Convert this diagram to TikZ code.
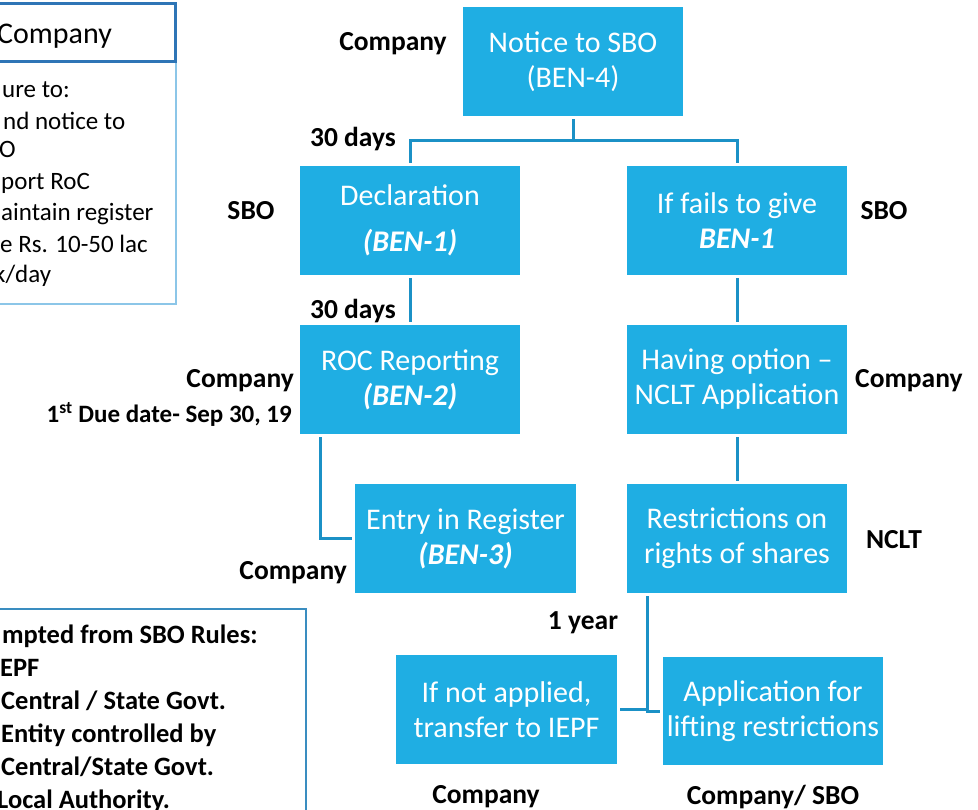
\documentclass[tikz,border=0pt]{standalone}
\usepackage{fontspec}
\setmainfont{Carlito}
\definecolor{boxblue}{HTML}{1FAEE3}
\definecolor{linkblue}{HTML}{1B91C6}
\definecolor{hdrblue}{HTML}{2E75B6}
\definecolor{bodyblue}{HTML}{8CC6E8}
\definecolor{exblue}{HTML}{3A8DC0}
\begin{document}
\begin{tikzpicture}[x=1pt,y=-1pt,
  flowbox/.style={fill=boxblue, text=white, minimum width=220pt, minimum height=109pt,
    inner sep=0pt, align=center, font=\fontsize{30}{35}\selectfont},
  lbl/.style={font=\bfseries\fontsize{27.5}{30}\selectfont, inner sep=0pt},
  conn/.style={draw=linkblue, line width=3pt, shorten <=3pt, shorten >=3pt},
  sidetxt/.style={anchor=base west, inner sep=0pt, font=\fontsize{25}{28}\selectfont},
  extxt/.style={anchor=base west, inner sep=0pt, font=\bfseries\fontsize{26.5}{30}\selectfont}]
\useasboundingbox (0,0) rectangle (978,810);
\clip (0,0) rectangle (978,810);

% left top boxes
\draw[draw=bodyblue, line width=2.5pt, fill=white] (-60,62) rectangle (176,304);
\draw[draw=hdrblue, line width=3pt, fill=white] (-60,4) rectangle (175,62);
\node[anchor=base west, inner sep=0pt, font=\fontsize{30}{34}\selectfont] (hdr) at (-3,44) {Company};
\node[sidetxt] (tl1) at (2,98) {ure to:};
\node[sidetxt] (tl2) at (3,130) {nd notice to};
\node[sidetxt] (tl3) at (-1,158) {O};
\node[sidetxt] (tl4) at (1,190) {port RoC};
\node[sidetxt] (tl5) at (1,221) {aintain register};
\node[sidetxt] (tl6) at (0,253) {e Rs. 10-50 lac};
\node[sidetxt] (tl7) at (-6,283) {k/day};

% left bottom box
\draw[draw=exblue, line width=2pt, fill=white] (-60,609) rectangle (306,860);
\node[extxt] (ex1) at (2,643) {mpted from SBO Rules:};
\node[extxt] (ex2) at (0,676) {EPF};
\node[extxt] (ex3) at (1,709) {Central / State Govt.};
\node[extxt] (ex4) at (1,742) {Entity controlled by};
\node[extxt] (ex5) at (1,775) {Central/State Govt.};
\node[extxt] (ex6) at (-3,808) {Local Authority.};

% flow boxes
\node[flowbox] (notice) at (573,61.5) {Notice to SBO\\(BEN-4)};
\node[flowbox] (decl) at (410,220.5) {Declaration\\[11pt]\textbf{\textit{(BEN-1)}}};
\node[flowbox] (fails) at (737,220.5) {If fails to give\\\textbf{\textit{BEN-1}}};
\node[flowbox] (roc) at (410,379.5) {ROC Reporting\\\textbf{\textit{(BEN-2)}}};
\node[flowbox] (having) at (737,379.5) {Having option --\\NCLT Application};
\node[flowbox, minimum width=221pt] (entry) at (465.5,538.5) {Entry in Register\\\textbf{\textit{(BEN-3)}}};
\node[flowbox] (restr) at (737,538.5) {Restrictions on\\rights of shares};
\node[flowbox, minimum width=221pt] (ifnot) at (506.5,709.5) {If not applied,\\transfer to IEPF};
\node[flowbox, minimum height=108pt] (app) at (773,711) {Application for\\lifting restrictions};

% connectors
\coordinate (nj) at (573,141);
\draw[conn, shorten >=0pt] (notice.south) -- (nj);
\draw[conn, shorten <=0pt] (nj) -| (decl.north);
\draw[conn, shorten <=0pt] (nj) -| (fails.north);
\draw[conn] (decl) -- (roc);
\draw[conn] (fails) -- (having);
\draw[conn] (having) -- (restr);
\draw[conn] ([xshift=-90pt]roc.south) |- (entry.west);
\coordinate (rj) at (647,710.5);
\draw[conn, shorten >=0pt] ([xshift=-90pt]restr.south) -- (rj);
\draw[conn, shorten >=-1.5pt] (ifnot.east) -- (ifnot.east -| rj);
\draw[conn, shorten <=-1.5pt] (app.west -| rj) -- (app.west);

% labels
\node[lbl] (l1) at (393,44) {Company};
\node[lbl] (l2) at (353,139) {30 days};
\node[lbl] (l3) at (251,211) {SBO};
\node[lbl] (l4) at (884,211) {SBO};
\node[lbl] (l5) at (353,311) {30 days};
\node[lbl, anchor=east] (l6) at (294,381) {Company};
\node[lbl, anchor=east, font=\bfseries\fontsize{25}{28}\selectfont] (l7) at (292,414) {1\textsuperscript{st} Due date- Sep 30, 19};
\node[lbl, anchor=east] (l8) at (347,573) {Company};
\node[lbl, anchor=west] (l9) at (855,381) {Company};
\node[lbl] (l10) at (894,540) {NCLT};
\node[lbl] (l11) at (583,623) {1 year};
\node[lbl] (l12) at (486,797) {Company};
\node[lbl] (l13) at (773,797) {Company/ SBO};
\end{tikzpicture}
\end{document}
